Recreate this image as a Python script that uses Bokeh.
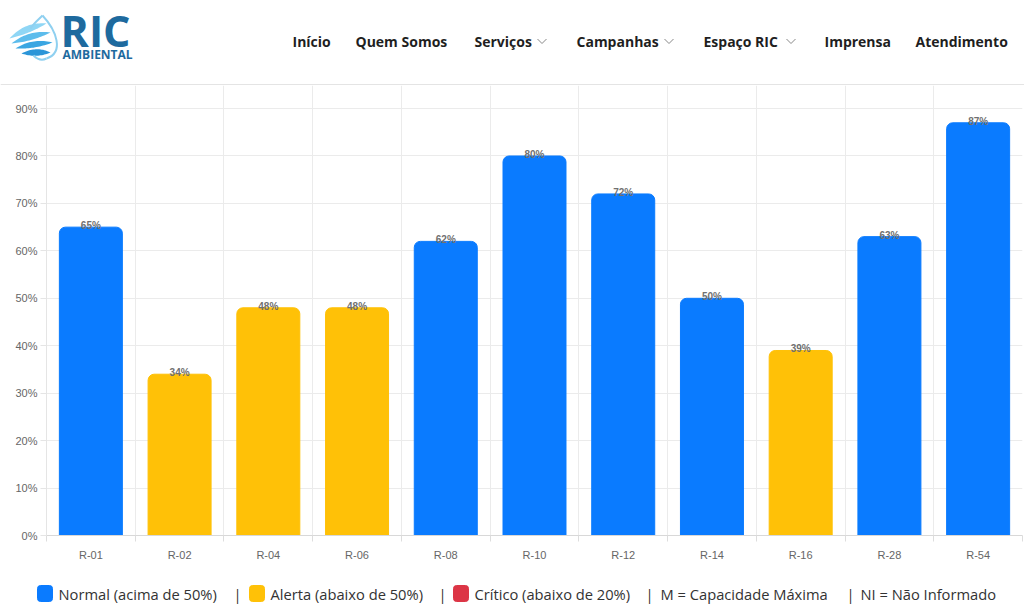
import numpy as np
from bokeh.plotting import figure
from bokeh.models import Range1d, FixedTicker, ColumnDataSource
from bokeh.layouts import column
from bokeh.core.properties import value
from bokeh.embed import file_html
from bokeh.resources import INLINE

# ---- data ----
reservoirs = ["R-01", "R-02", "R-04", "R-06", "R-08", "R-10", "R-12", "R-14", "R-16", "R-28", "R-54"]
levels = [65, 34, 48, 48, 62, 80, 72, 50, 39, 63, 87]
y_ticks = [0, 10, 20, 30, 40, 50, 60, 70, 80, 90]
nav_items = ["Início", "Quem Somos", "Serviços", "Campanhas", "Espaço RIC", "Imprensa", "Atendimento"]
legend_labels = ["Normal (acima de 50%)", "Alerta (abaixo de 50%)", "Crítico (abaixo de 20%)",
                 "M = Capacidade Máxima", "NI = Não Informado"]
legend_colors = ["#0a7bff", "#ffc107", "#dc3545", None, None]

BLUE, YELLOW = "#0a7bff", "#ffc107"
colors = [BLUE if v >= 50 else YELLOW for v in levels]

# layout positions (page pixels)
nav_x = [292, 355, 474, 576, 703, 824, 915]
nav_chev_x = [None, None, 537, 664, 786, None, None]
leg_box_x = [37, 249, 453, None, None]
leg_text_x = [58, 270, 474, 660, 860]
sep_x = [233, 438, 645, 846]

W = 1024

# ---- header ----
h = figure(width=W, height=85, x_range=Range1d(0, W), y_range=Range1d(85, 0),
           output_backend="svg", toolbar_location=None, min_border=0)
h.frame_align = False
h.axis.visible = False
h.grid.visible = False
h.outline_line_color = None


def crescent(p0, p1, cu, cl, n=24):
    t = np.linspace(0, 1, n)[:, None]
    a, b, cu_, cl_ = map(np.array, (p0, p1, cu, cl))
    up = (1 - t) ** 2 * a + 2 * (1 - t) * t * cu_ + t ** 2 * b
    lo = (1 - t) ** 2 * b + 2 * (1 - t) * t * cl_ + t ** 2 * a
    pts = np.vstack([up, lo])
    return list(pts[:, 0]), list(pts[:, 1])


sw = [((9, 38), (46, 23), (24, 21), (30, 33)),
      ((11, 43), (50, 32), (28, 29), (32, 41)),
      ((15, 48), (52, 42), (32, 37), (34, 49)),
      ((21, 53), (50, 52), (36, 45), (36, 58))]
xs, ys = [], []
for s in sw:
    a, b = crescent(*s)
    xs.append(a)
    ys.append(b)
h.patches(xs=xs, ys=ys, fill_color=["#8fd6f5", "#5cbcec", "#3aa6e2", "#2b95d8"], line_color=None)
h.bezier(x0=[42], y0=[15], x1=[46], y1=[58], cx0=[56], cy0=[30], cx1=[64], cy1=[52],
         line_color="#8fd0f0", line_width=2)
h.bezier(x0=[46], y0=[58], x1=[33], y1=[55], cx0=[42], cy0=[60], cx1=[37], cy1=[59],
         line_color="#8fd0f0", line_width=2)
h.bezier(x0=[42], y0=[15], x1=[30], y1=[28], cx0=[38], cy0=[19], cx1=[33], cy1=[23],
         line_color="#8fd0f0", line_width=2)
h.text(x=[60], y=[30], text=["RIC"], text_font=value("Open Sans"), text_font_style="bold",
       text_font_size="43px", text_color="#1e6a9e", text_baseline="middle")
h.text(x=[62], y=[54], text=["AMBIENTAL"], text_font=value("Open Sans"), text_font_style="bold",
       text_font_size="12px", text_color="#1e6a9e", text_baseline="middle")

h.text(x=nav_x, y=[41] * len(nav_x), text=nav_items, text_font=value("Open Sans"),
       text_font_style="bold", text_font_size="14px", text_color="#1f1f1f", text_baseline="middle")
cx = [c for c in nav_chev_x if c is not None]
h.multi_line(xs=[[c, c + 4.5, c + 9] for c in cx], ys=[[38.5, 43, 38.5] for _ in cx],
             line_color="#888888", line_width=1)
h.line(x=[0, W], y=[84.5, 84.5], line_color="#e4e4e4", line_width=2)

# ---- chart ----
xc = [i + 0.5 for i in range(len(reservoirs))]
src = ColumnDataSource(dict(x=xc, top=levels, color=colors,
                            lab=[f"{v}%" for v in levels]))

p = figure(width=W, height=487, x_range=Range1d(0, len(reservoirs)), y_range=Range1d(0, 94.86),
           output_backend="svg", toolbar_location=None,
           min_border_left=46, min_border_right=2, min_border_top=0, min_border_bottom=37)
p.frame_align = False
p.outline_line_color = None
p.vbar(x="x", top="top", width=0.71, color="color", source=src, border_radius=(6, 6, 0, 0))
p.text(x="x", y="top", text="lab", source=src, text_align="center", text_baseline="bottom",
       y_offset=4, text_font=value("Liberation Sans"), text_font_style="bold",
       text_font_size="10px", text_color="#707070")

p.xaxis.ticker = FixedTicker(ticks=xc, minor_ticks=list(range(len(reservoirs) + 1)))
p.xaxis.major_label_overrides = {x: n for x, n in zip(xc, reservoirs)}
p.xaxis.major_tick_line_color = None
p.xaxis.minor_tick_in = 0
p.xaxis.minor_tick_out = 6
p.xaxis.minor_tick_line_color = "#dddddd"
p.xaxis.axis_line_color = "#d8d8d8"
p.xaxis.major_label_standoff = 7
p.xaxis.major_label_text_font = "Liberation Sans"
p.xaxis.major_label_text_font_size = "11px"
p.xaxis.major_label_text_color = "#666666"

p.yaxis.ticker = FixedTicker(ticks=y_ticks)
p.yaxis.major_label_overrides = {v: f"{v}%" for v in y_ticks}
p.yaxis.major_tick_in = 0
p.yaxis.major_tick_out = 6
p.yaxis.major_tick_line_color = "#e5e5e5"
p.yaxis.minor_tick_line_color = None
p.yaxis.axis_line_color = "#e5e5e5"
p.yaxis.major_label_standoff = 3
p.yaxis.major_label_text_font = "Liberation Sans"
p.yaxis.major_label_text_font_size = "11px"
p.yaxis.major_label_text_color = "#666666"

p.xgrid.ticker = FixedTicker(ticks=list(range(len(reservoirs) + 1)))
p.xgrid.grid_line_color = "#ebebeb"
p.ygrid.ticker = FixedTicker(ticks=y_ticks)
p.ygrid.grid_line_color = "#ebebeb"

# ---- legend strip ----
g = figure(width=W, height=35, x_range=Range1d(0, W), y_range=Range1d(607, 572),
           output_backend="svg", toolbar_location=None, min_border=0)
g.frame_align = False
g.axis.visible = False
g.grid.visible = False
g.outline_line_color = None
bx = [b for b in leg_box_x if b is not None]
bc = [c for c in legend_colors if c is not None]
g.quad(left=bx, right=[b + 15 for b in bx], top=[585] * len(bx), bottom=[601] * len(bx),
       color=bc, border_radius=3)
g.text(x=leg_text_x, y=[593] * len(leg_text_x), text=legend_labels, text_font=value("Open Sans"),
       text_font_size="14.7px", text_color="#333333", text_baseline="middle")
g.text(x=sep_x, y=[593] * len(sep_x), text=["|"] * len(sep_x), text_font=value("Open Sans"),
       text_font_size="14.7px", text_color="#333333", text_baseline="middle")

layout = column(h, p, g, spacing=0)
open("out.html", "w").write(file_html(layout, INLINE))
